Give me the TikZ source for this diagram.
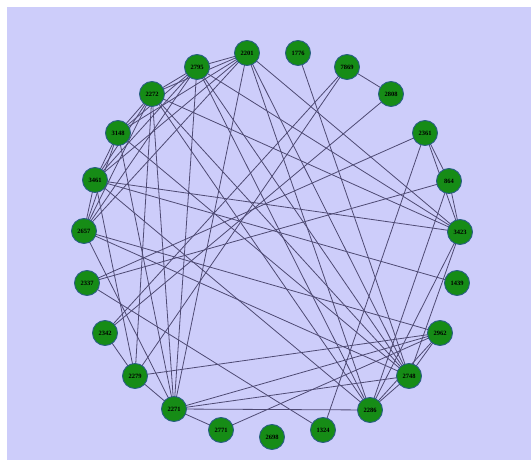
\documentclass[tikz,border=0pt]{standalone}
\usepackage{fontspec}
\setmainfont{Liberation Serif}
\definecolor{bgc}{RGB}{205,205,250}
\definecolor{nodefill}{RGB}{22,140,22}
\definecolor{nodeline}{RGB}{40,95,130}
\definecolor{edgec}{RGB}{78,74,115}
\tikzset{
  vtx/.style={circle,fill=nodefill,draw=nodeline,line width=0.9pt,minimum size=25pt,inner sep=0pt,font=\fontsize{6.5}{7}\selectfont\bfseries,text=black},
  lnk/.style={draw=edgec,line width=0.8pt}
}
\begin{document}
\begin{tikzpicture}[x=1pt,y=-1pt]
\useasboundingbox (0,0) rectangle (531,462);
\fill[white] (0,0) rectangle (531,462);
\fill[bgc] (7,7) rectangle (531,460);
% edges first (drawn under the nodes)
\coordinate (c2201) at (247,53);
\coordinate (c1776) at (298,53);
\coordinate (c7869) at (347,67);
\coordinate (c2808) at (391,94);
\coordinate (c2361) at (425,133);
\coordinate (c864) at (449,181);
\coordinate (c3423) at (460,232);
\coordinate (c1439) at (457,283);
\coordinate (c2962) at (440,333);
\coordinate (c2748) at (409,376);
\coordinate (c2286) at (370,410);
\coordinate (c1324) at (323,430);
\coordinate (c2698) at (272,437);
\coordinate (c2771) at (221,430);
\coordinate (c2271) at (174,409);
\coordinate (c2279) at (135,376);
\coordinate (c2342) at (105,333);
\coordinate (c2337) at (87,283);
\coordinate (c2657) at (84,231);
\coordinate (c3461) at (95,180);
\coordinate (c3148) at (118,133);
\coordinate (c2272) at (152,94);
\coordinate (c2795) at (197,67);
\foreach \a/\b in {
 2201/2795,2201/2272,2201/3148,2201/3461,2201/2657,2201/2271,2201/2286,2201/2748,2201/3423,
 2795/2272,2795/3148,2795/3461,2795/2657,2795/2271,2795/2286,2795/2748,2795/3423,
 2272/3148,2272/3461,2272/2657,2272/2271,2272/2279,2272/2286,2272/2748,2272/3423,
 3148/3461,3148/2657,3148/2271,3148/2748,
 3461/2657,3461/3423,3461/1439,3461/2286,3461/2279,
 2657/2271,2657/2748,2657/2962,
 1776/2748,
 7869/2808,7869/2279,7869/2342,
 2808/2342,
 2361/864,2361/3423,2361/2337,2361/1324,
 864/3423,864/2337,864/2286,
 3423/2748,3423/2286,
 2962/2748,2962/2286,2962/2279,2962/2271,
 2748/2286,2748/2271,
 2286/2271,
 2337/1324,
 2342/2279,
 2279/2271,
 2271/2771,
 2771/2962}
  \draw[lnk] (c\a) -- (c\b);
% nodes
\node[vtx] (n2201) at (c2201) {2201};
\node[vtx] (n1776) at (c1776) {1776};
\node[vtx] (n7869) at (c7869) {7869};
\node[vtx] (n2808) at (c2808) {2808};
\node[vtx] (n2361) at (c2361) {2361};
\node[vtx] (n864) at (c864) {864};
\node[vtx] (n3423) at (c3423) {3423};
\node[vtx] (n1439) at (c1439) {1439};
\node[vtx] (n2962) at (c2962) {2962};
\node[vtx] (n2748) at (c2748) {2748};
\node[vtx] (n2286) at (c2286) {2286};
\node[vtx] (n1324) at (c1324) {1324};
\node[vtx] (n2698) at (c2698) {2698};
\node[vtx] (n2771) at (c2771) {2771};
\node[vtx] (n2271) at (c2271) {2271};
\node[vtx] (n2279) at (c2279) {2279};
\node[vtx] (n2342) at (c2342) {2342};
\node[vtx] (n2337) at (c2337) {2337};
\node[vtx] (n2657) at (c2657) {2657};
\node[vtx] (n3461) at (c3461) {3461};
\node[vtx] (n3148) at (c3148) {3148};
\node[vtx] (n2272) at (c2272) {2272};
\node[vtx] (n2795) at (c2795) {2795};
\end{tikzpicture}
\end{document}
